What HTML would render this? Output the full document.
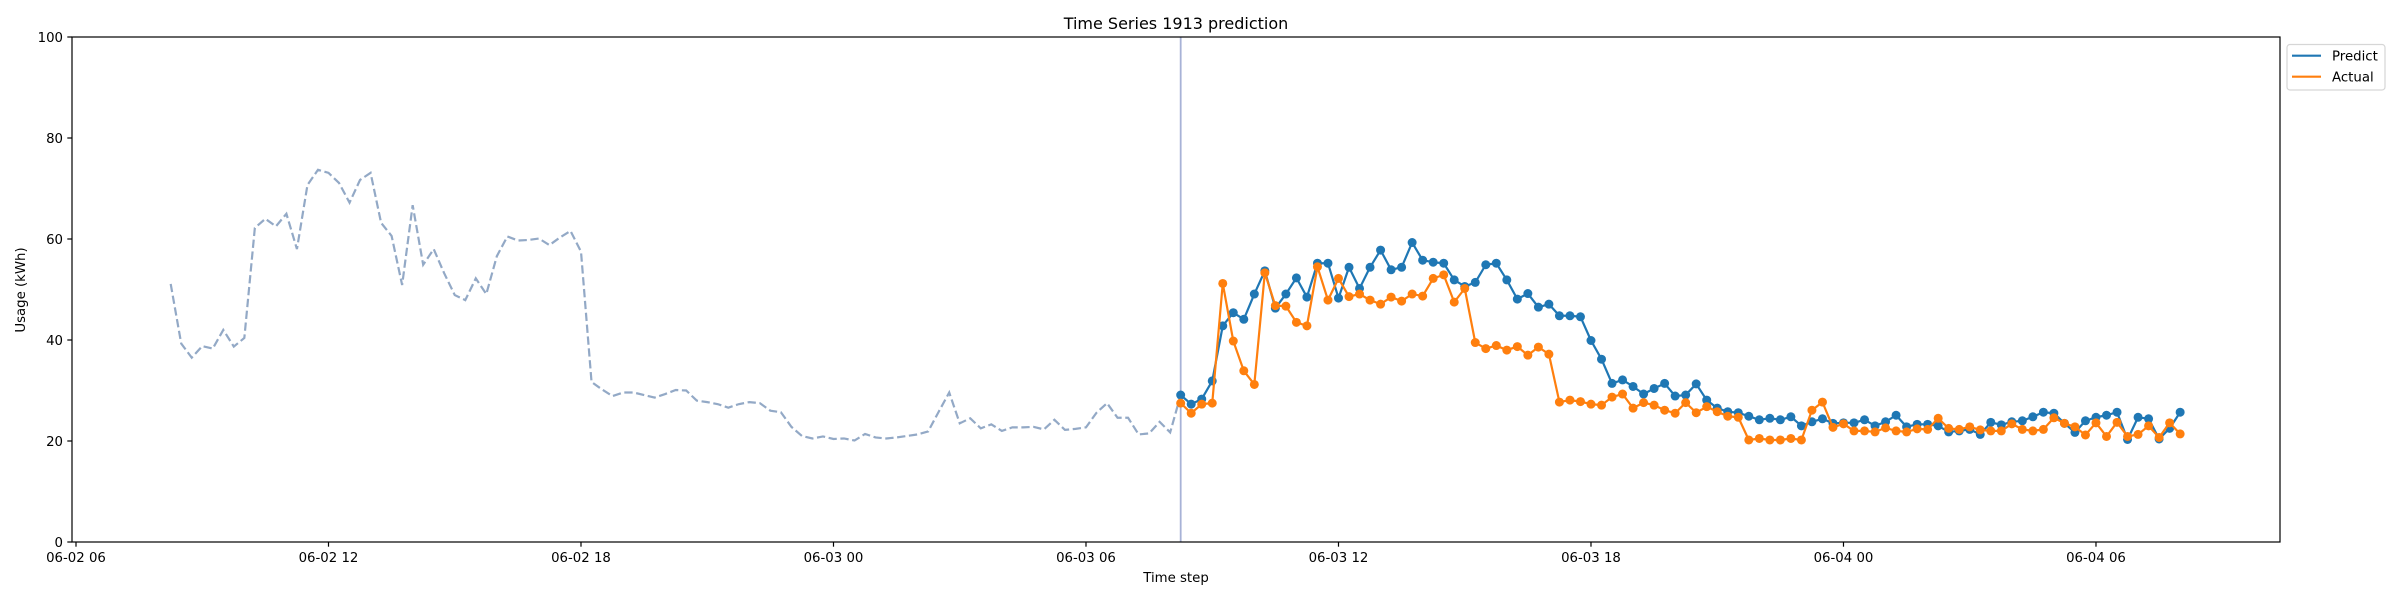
<!DOCTYPE html>
<html><head><meta charset="utf-8"><style>
html,body{margin:0;padding:0;background:#fff;}
svg{display:block;font-family:"DejaVu Sans","Liberation Sans",sans-serif;}
</style></head>
<body>
<svg id="chart" width="2400" height="600" viewBox="0 0 2400 600">
<text x="1176" y="29" font-size="16" text-anchor="middle" fill="#000">Time Series 1913 prediction</text>
<text x="1176" y="582" font-size="13.3" text-anchor="middle" fill="#000">Time step</text>
<text x="0" y="0" font-size="13.3" text-anchor="middle" fill="#000" transform="translate(25,290) rotate(-90)">Usage (kWh)</text>
<g id="marks"></g>
<rect x="72" y="37" width="2208" height="505" fill="none" stroke="#000" stroke-width="1.2"/>
<g id="ticks"></g>
<g>
<rect x="2287" y="44.5" width="98" height="45.5" rx="3" fill="#fff" stroke="#d6d6d6" stroke-width="1.2"/>
<line x1="2292" y1="55.7" x2="2321" y2="55.7" stroke="#1f77b4" stroke-width="2.2"/>
<text x="2332" y="60.5" font-size="13.3" fill="#000">Predict</text>
<line x1="2292" y1="76.7" x2="2321" y2="76.7" stroke="#ff7f0e" stroke-width="2.2"/>
<text x="2332" y="81.5" font-size="13.3" fill="#000">Actual</text>
</g>
</svg>
<script>
// Data (15-minute steps). History starts 06-02 08:15, prediction starts 06-03 08:15.
const historyValues = [51.1,39.3,36.5,38.8,38.3,42,38.7,40.4,62.2,64,62.5,65,
58,70.7,73.7,73.1,71.1,67.2,71.7,73.1,63.2,60.6,50.9,66.7,54.9,58.0,53.2,48.9,47.9,52.2,49.1,56.6,60.5,59.7,59.8,60.1,58.8,60.3,61.6,57.5,
31.7,30.2,28.9,29.6,29.6,29.1,28.6,29.3,30.1,30.0,
28.0,27.7,27.3,26.6,27.3,27.7,27.5,26.0,25.7,22.8,
21.0,20.5,20.9,20.4,20.5,20.1,21.4,20.7,20.5,20.7,
21.0,21.3,21.9,25.8,29.6,23.5,24.5,22.5,23.3,22.0,
22.7,22.7,22.8,22.3,24.2,22.2,22.4,22.7,25.6,27.5,
24.6,24.6,21.3,21.5,23.8,21.7];
const predictValues = [29.1,27.3,28.3,31.9,42.8,45.4,44.1,49.1,53.7,46.3,49.1,52.3,48.5,55.2,55.2,48.3,54.4,50.2,54.4,57.8,53.9,54.4,59.3,55.8,55.4,55.2,51.9,50.6,51.4,54.9,55.2,51.9,48.1,49.2,
46.5,47.1,44.8,44.8,44.6,39.9,36.2,31.4,32.1,30.8,29.3,30.4,31.4,28.9,29.1,31.3,28.1,26.5,25.8,25.6,24.9,24.2,24.5,24.2,24.8,23.0,23.8,24.4,23.5,23.6,23.6,
24.2,23.0,23.8,25.1,22.8,23.3,23.3,23.0,21.8,22.0,22.3,21.3,23.7,23.2,23.8,24.0,24.8,25.7,25.5,23.5,21.7,24.0,24.7,25.1,25.7,20.3,24.7,24.4,20.4,22.5,25.7];
const actualValues = [27.5,25.5,27.3,27.5,51.2,39.8,33.9,31.2,53.3,46.8,46.7,43.5,42.8,54.5,47.9,52.2,48.6,49.1,47.9,47.1,48.5,47.7,49.1,48.7,52.2,52.9,47.5,50.2,39.5,38.3,38.9,38.0,38.7,37.0,
38.6,37.2,27.7,28.1,27.8,27.3,27.1,28.7,29.3,26.5,27.6,27.1,26.1,25.5,27.6,25.6,26.8,25.8,24.9,24.7,20.2,20.5,20.2,20.2,20.5,20.2,26.1,27.7,22.7,23.4,22.0,
22.0,21.8,22.6,22.0,21.8,22.4,22.3,24.5,22.5,22.3,22.8,22.2,22.0,22.0,23.4,22.3,22.0,22.3,24.6,23.5,22.8,21.2,23.6,20.9,23.7,20.9,21.3,23.0,20.7,23.6,21.4];
const xTickLabels = ["06-02 06","06-02 12","06-02 18","06-03 00","06-03 06","06-03 12","06-03 18","06-04 00","06-04 06"];
const yTickValues = [0,20,40,60,80,100];
const historyStartHour = 2.25;   // hours after 06-02 06:00
const predictStartHour = 26.25;
const stepHours = 0.25;

// axis functions
const X0 = 76, PXH = 42.083;
function xScale(h){ return X0 + h*PXH; }
function yScale(v){ return 542 - v*5.05; }

const NS = "http://www.w3.org/2000/svg";
const marks = document.getElementById("marks");
const ticks = document.getElementById("ticks");
function mk(tag, attrs, parent){
  const e = document.createElementNS(NS, tag);
  for (const k in attrs) e.setAttribute(k, attrs[k]);
  parent.appendChild(e);
  return e;
}

// y ticks
yTickValues.forEach(v => {
  const y = yScale(v);
  const t = mk("line", {x1:67.3, x2:72, y1:y, y2:y, stroke:"#000", "stroke-width":1.2}, ticks);
  
  
  const l = mk("text", {x:63, y:y+4.8, "font-size":13.3, "text-anchor":"end", fill:"#000"}, ticks);
  l.textContent = v;
  
  
});
// x ticks
xTickLabels.forEach((lab, i) => {
  const x = xScale(i*6);
  const t = mk("line", {x1:x, x2:x, y1:542, y2:546.7, stroke:"#000", "stroke-width":1.2}, ticks);
  
  
  const l = mk("text", {x:x, y:562, "font-size":13.3, "text-anchor":"middle", fill:"#000"}, ticks);
  l.textContent = lab;
  
  
});

// vertical split line
const vx = xScale(predictStartHour);
const vl = mk("line", {x1:vx, x2:vx, y1:37, y2:542, stroke:"#a7b2d6", "stroke-width":1.8}, marks);



// history dashed line (connects to first prediction point)
let hp = historyValues.map((v,i) => xScale(historyStartHour + i*stepHours).toFixed(2) + "," + yScale(v).toFixed(2));
hp.push(xScale(predictStartHour).toFixed(2) + "," + yScale(predictValues[0]).toFixed(2));
const hl = mk("polyline", {points: hp.join(" "), fill:"none", stroke:"#93a9c6", "stroke-width":2.2, "stroke-dasharray":"8.3,3.6"}, marks);



function series(vals, color, name){
  const g = mk("g", {}, marks);
  
  
  const pts = vals.map((v,i) => xScale(predictStartHour + i*stepHours).toFixed(2) + "," + yScale(v).toFixed(2));
  const pl = mk("polyline", {points: pts.join(" "), fill:"none", stroke:color, "stroke-width":2.2, "stroke-linejoin":"round"}, g);
  
  
  vals.forEach((v,i) => {
    const c = mk("circle", {cx: xScale(predictStartHour + i*stepHours), cy: yScale(v), r:4.5, fill:color}, g);
    
    
  });
}
series(predictValues, "#1f77b4", "predict");
series(actualValues, "#ff7f0e", "actual");
</script>
</body></html>
